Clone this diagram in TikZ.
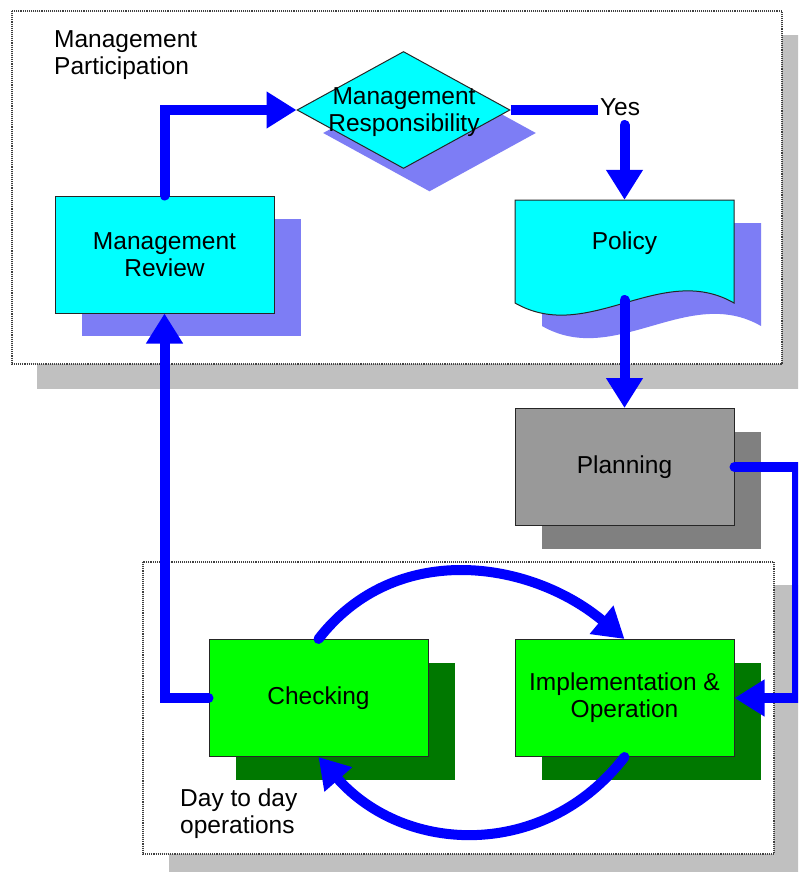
\documentclass[tikz,border=0pt]{standalone}
\usepackage{fontspec}
\setmainfont{Liberation Sans}
\usetikzlibrary{arrows.meta,shapes.geometric,shadows}
\definecolor{arrowblue}{RGB}{0,0,255}
\definecolor{shadowblue}{RGB}{125,125,245}
\definecolor{boxcyan}{RGB}{0,255,255}
\definecolor{boxgreen}{RGB}{0,255,0}
\definecolor{darkgreen}{RGB}{0,120,0}
\definecolor{plangray}{RGB}{153,153,153}
\definecolor{plandark}{RGB}{128,128,128}
\definecolor{panelshadow}{RGB}{192,192,192}
\begin{document}
\begin{tikzpicture}[x=1pt,y=-1pt,
  every node/.style={font=\fontsize{24.5}{27}\selectfont},
  flowbox/.style={rectangle, draw=black!85, line width=1pt, minimum width=219pt, minimum height=117pt, align=center, inner sep=0pt},
  shadowoff/.style={drop shadow={shadow xshift=27pt, shadow yshift=-23pt, fill=#1, draw=none, opacity=1}},
  panel/.style={draw=black!75, fill=white, line width=1.1pt, densely dotted},
  arr/.style={draw=arrowblue, line width=10pt, line cap=round, -{Triangle[length=30pt,width=35pt]}},
  link/.style={draw=arrowblue, line width=10pt, line cap=round},
  freetext/.style={inner sep=0pt, align=left}
]
\useasboundingbox (0,0) rectangle (798,872);
\clip (0,0) rectangle (798,872);

% panel shadows and panels
\fill[panelshadow] (37,35) rectangle (810,389);
\fill[panelshadow] (169,585) rectangle (810,880);
\path[panel] (12,11) rectangle (782,364);
\path[panel] (143,562) rectangle (774,854);

% Management Review
\node[flowbox, fill=boxcyan, shadowoff=shadowblue] (review) at (164.5,254.5) {Management\\Review};

% Management Responsibility diamond
\node[diamond, draw=black!85, line width=1pt, fill=boxcyan, minimum width=213pt, minimum height=117pt, inner sep=0pt,
      drop shadow={shadow xshift=26pt, shadow yshift=-23pt, fill=shadowblue, draw=none, opacity=1}] (resp) at (403.5,110) {};
\node[align=center, inner sep=0pt] (resptext) at (404,112) {Management\\Responsibility};

% Policy document shape
\fill[shadowblue] (542,223) -- (761,223) -- (761,326) .. controls (688,284) and (615,368) .. (542,326) -- cycle;
\filldraw[fill=boxcyan, draw=black!85, line width=1pt] (515,200) -- (734,200) -- (734,303) .. controls (661,261) and (588,345) .. (515,303) -- cycle;
\node[minimum width=219pt, minimum height=103pt, inner sep=0pt] (policy) at (624.5,251.5) {};
\node (policytext) at (624.5,243) {Policy};
\coordinate (policybot) at (624.5,300);

% Planning
\node[flowbox, fill=plangray, shadowoff=plandark] (planning) at (624.5,467) {Planning};

% Implementation and Checking
\node[flowbox, fill=boxgreen, shadowoff=darkgreen] (impl) at (624.5,698) {Implementation \&\\Operation};
\node[flowbox, fill=boxgreen, shadowoff=darkgreen] (checking) at (318.5,698) {Checking};

% free texts
\node[freetext, anchor=north west] (mp) at (54,30) {Management\\Participation};
\node[freetext, anchor=north west] (dd) at (180,789) {Day to day\\operations};
\node[inner sep=2pt] (yes) at (620,107) {Yes};

% connectors
\coordinate (ydown) at (624.5,125);
\coordinate (rt) at (797,467);
\draw[arr] (review.north) |- (resp.west);
\draw[link, line cap=butt] (resp.east) -- (resp.east -| yes.west);
\draw[arr] (ydown) -- (policy.north);
\draw[arr] (policybot) -- (planning.north);
\draw[arr] (planning.east) -- (rt) |- (impl.east);
\draw[arr] (checking.west) -| (review.south);
\draw[arr] (checking.north) .. controls (395,540) and (530,560) .. (impl.north);
\draw[arr] (impl.south) .. controls (545,860) and (405,855) .. (checking.south);
\end{tikzpicture}
\end{document}
